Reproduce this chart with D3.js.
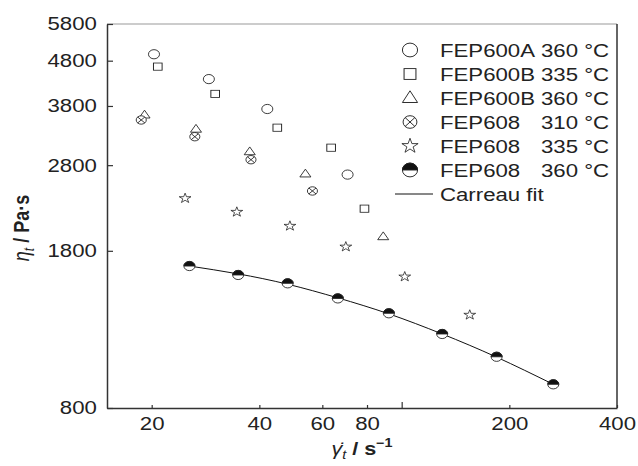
<!DOCTYPE html>
<html>
<head>
<meta charset="utf-8">
<script src="https://cdn.jsdelivr.net/npm/d3@7"></script>
<style>
  body { margin: 0; background: #fff; }
  svg { display: block; }
  text { font-family: "Liberation Sans", Arial, sans-serif; fill: #222; }
</style>
</head>
<body>
<svg id="chart" width="638" height="466"></svg>
<script>
var w = 638, h = 466;
var padL = 107, padR = 617, padT = 24, padB = 408;
var sx = 1.2; // picture is a bit wide, so text + markers are stretched

// shear rate (1/s) and viscosity (Pa s) per series
var rateA360 = [20.3, 28.9, 42.1, 70.6];
var etaA360 = [4962, 4365, 3741, 2667];
var rateB335 = [20.8, 30.1, 44.9, 63.5, 78.7];
var etaB335 = [4655, 4044, 3397, 3064, 2237];
var rateB360 = [19.1, 26.6, 37.6, 53.8, 88.8];
var etaB360 = [3627, 3371, 3001, 2676, 1936];
var rate608_310 = [18.7, 26.4, 37.9, 56.3];
var eta608_310 = [3535, 3243, 2880, 2451];
var rate608_335 = [24.8, 34.6, 48.7, 69.8, 102, 155];
var eta608_335 = [2360, 2199, 2046, 1838, 1575, 1293];
var rate608_360 = [25.5, 34.9, 48.0, 66.3, 92.1, 129.8, 184.3, 265.4];
var eta608_360 = [1664, 1589, 1522, 1408, 1304, 1172, 1042, 904];
// Carreau fit curve as drawn
var fitRate = [25.5, 34.9, 48.0, 66.3, 92.1, 129.8, 184.3, 265.4];
var fitEta = [1664, 1598, 1515, 1412, 1300, 1172, 1040, 904];

var legendNames = ["FEP600A", "FEP600B", "FEP600B", "FEP608", "FEP608", "FEP608"];
var legendTemps = ["360 °C", "335 °C", "360 °C", "310 °C", "335 °C", "360 °C"];
var markerKinds = ["circle", "square", "triangle", "crossed", "star", "half"];
var fitLabel = "Carreau fit";

var xTicks = [20, 40, 60, 80, 100, 200, 400];
var yTicks = [800, 1800, 2800, 3800, 4800, 5800];

var series = [
  { kind: "circle", rate: rateA360, eta: etaA360 },
  { kind: "square", rate: rateB335, eta: etaB335 },
  { kind: "triangle", rate: rateB360, eta: etaB360 },
  { kind: "crossed", rate: rate608_310, eta: eta608_310 },
  { kind: "star", rate: rate608_335, eta: eta608_335 },
  { kind: "half", rate: rate608_360, eta: eta608_360 }
];

var canvas = d3.select("#chart");

var xScale = d3.scaleLog().domain([15, 400]).range([padL, padR]);
var yScale = d3.scaleLog().domain([800, 5800]).range([padB, padT]);

var ink = "#222";

// frame: top gray, right dark
canvas.append("line")
  .attr("x1", padL).attr("x2", padR).attr("y1", padT).attr("y2", padT)
  .attr("stroke", "#999").attr("stroke-width", 1);
canvas.append("line")
  .attr("x1", padR).attr("x2", padR).attr("y1", padT).attr("y2", padB)
  .attr("stroke", "#333").attr("stroke-width", 1.5);

var xAxis = d3.axisBottom(xScale)
  .tickValues(xTicks)
  .tickSizeInner(-3)
  .tickSizeOuter(0)
  .tickPadding(9)
  .tickFormat(function (d) { return d == 100 ? "" : d; });

var yAxis = d3.axisLeft(yScale)
  .tickValues(yTicks)
  .tickSizeInner(-6)
  .tickSizeOuter(0)
  .tickPadding(8.5)
  .tickFormat(d3.format("d"));

var gx = canvas.append("g")
  .attr("transform", "translate(0," + padB + ")")
  .call(xAxis);
var gy = canvas.append("g")
  .attr("transform", "translate(" + padL + ",0)")
  .call(yAxis);

[gx, gy].forEach(function (g) {
  g.attr("font-family", null).attr("font-size", null);
  g.select(".domain").attr("stroke", "#333").attr("stroke-width", 1.5);
  g.selectAll(".tick line").attr("stroke", "#333").attr("stroke-width", 1.2);
  g.selectAll(".tick text")
    .attr("fill", ink)
    .style("font-size", "18.5px")
    .attr("transform", "scale(" + sx + ",1)");
});
// 100 gets the longer tick
gx.selectAll(".tick").filter(function (d) { return d == 100; })
  .select("line").attr("y2", -6);

// Carreau fit
var fitData = fitRate.map(function (r, i) { return { rate: r, eta: fitEta[i] }; });
var line = d3.line()
  .x(function (d) { return xScale(d.rate); })
  .y(function (d) { return yScale(d.eta); })
  .curve(d3.curveNatural);
canvas.append("path")
  .datum(fitData)
  .attr("d", line)
  .attr("fill", "none")
  .attr("stroke", "#111")
  .attr("stroke-width", 1);

function drawMarker(g, kind, sw) {
  if (kind == "circle") {
    g.append("circle").attr("r", 4.6).attr("fill", "#fff").attr("stroke", ink).attr("stroke-width", sw);
  } else if (kind == "square") {
    g.append("rect").attr("x", -3.6).attr("y", -3.6).attr("width", 7.2).attr("height", 7.2)
      .attr("fill", "#fff").attr("stroke", ink).attr("stroke-width", sw);
  } else if (kind == "triangle") {
    g.append("path").attr("d", "M0,-4.8L4.6,3L-4.6,3Z")
      .attr("fill", "#fff").attr("stroke", ink).attr("stroke-width", sw);
  } else if (kind == "crossed") {
    g.append("circle").attr("r", 4.2).attr("fill", "#fff").attr("stroke", ink).attr("stroke-width", sw);
    g.append("path").attr("d", "M-3,-3L3,3M-3,3L3,-3")
      .attr("stroke", ink).attr("stroke-width", sw);
  } else if (kind == "star") {
    g.append("path").attr("d", d3.symbol(d3.symbolStar, 30)())
      .attr("fill", "#fff").attr("stroke", ink).attr("stroke-width", sw * 0.9);
  } else if (kind == "half") {
    var r = 4.6;
    g.append("circle").attr("r", r).attr("fill", "#fff").attr("stroke", ink).attr("stroke-width", sw);
    g.append("path").attr("d", "M" + (-r) + ",0A" + r + "," + r + " 0 0 1 " + r + ",0Z")
      .attr("fill", "#111").attr("stroke", ink).attr("stroke-width", sw);
  }
}

series.forEach(function (s) {
  var pts = s.rate.map(function (r, i) { return { rate: r, eta: s.eta[i] }; });
  canvas.selectAll("g.m-" + s.kind)
    .data(pts)
    .join("g")
    .attr("class", "m-" + s.kind)
    .attr("transform", function (d) {
      return "translate(" + xScale(d.rate) + "," + yScale(d.eta) + ") scale(" + sx + ",1)";
    })
    .each(function () { drawMarker(d3.select(this), s.kind, 0.8); });
});

// legend
var legX = 410, legTextX = 440, legTempX = 541, legY0 = 50, legStep = 24;
markerKinds.forEach(function (k, i) {
  var y = legY0 + i * legStep;
  var g = canvas.append("g")
    .attr("transform", "translate(" + legX + "," + y + ") scale(1.65,1.5)");
  drawMarker(g, k, 0.6);
  canvas.append("text")
    .attr("transform", "translate(" + legTextX + "," + (y + 6.6) + ") scale(" + sx + ",1)")
    .style("font-size", "18.5px")
    .text(legendNames[i]);
  canvas.append("text")
    .attr("transform", "translate(" + legTempX + "," + (y + 6.6) + ") scale(" + sx + ",1)")
    .style("font-size", "18.5px")
    .text(legendTemps[i]);
});
var fy = legY0 + 6 * legStep;
canvas.append("line")
  .attr("x1", 395).attr("x2", 433).attr("y1", fy).attr("y2", fy)
  .attr("stroke", "#111").attr("stroke-width", 1);
canvas.append("text")
  .attr("transform", "translate(" + legTextX + "," + (fy + 6.6) + ") scale(" + sx + ",1)")
  .style("font-size", "18.5px")
  .text(fitLabel);

// axis titles
var xt = canvas.append("text")
  .attr("transform", "translate(" + ((padL + padR) / 2) + ",455) scale(" + sx + ",1)")
  .attr("text-anchor", "middle")
  .style("font-size", "18px");
xt.append("tspan").style("font-style", "italic").text("γ̇");
xt.append("tspan").attr("dy", 4).style("font-size", "12px").style("font-style", "italic").text("t");
xt.append("tspan").attr("dy", -4).style("font-weight", "bold").text(" / s");
xt.append("tspan").attr("dy", -8).style("font-size", "12px").style("font-weight", "bold").text("−1");

var yt = canvas.append("text")
  .attr("transform", "translate(29,228) scale(" + sx + ",1) rotate(-90)")
  .attr("text-anchor", "middle")
  .style("font-size", "18px");
yt.append("tspan").style("font-style", "italic").text("η");
yt.append("tspan").attr("dy", 4).style("font-size", "12px").style("font-style", "italic").text("t");
yt.append("tspan").attr("dy", -4).style("font-weight", "bold").text(" / Pa·s");
</script>
</body>
</html>
